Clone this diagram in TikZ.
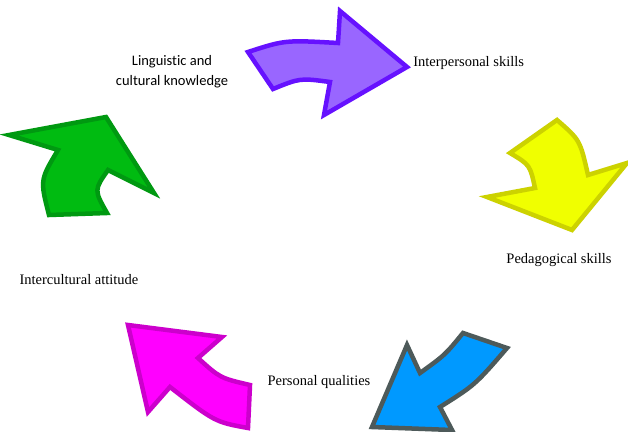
\documentclass[tikz,border=0pt]{standalone}
\usepackage{fontspec}
\setmainfont{Liberation Serif}
\newfontfamily\calibrifont[Ligatures=NoCommon]{Carlito}
\definecolor{purpfill}{RGB}{153,102,255}
\definecolor{purpline}{RGB}{102,17,255}
\definecolor{yelfill}{RGB}{240,255,0}
\definecolor{yelline}{RGB}{204,210,0}
\definecolor{bluefill}{RGB}{0,153,255}
\definecolor{blueline}{RGB}{77,90,90}
\definecolor{pinkfill}{RGB}{255,0,255}
\definecolor{pinkline}{RGB}{204,0,204}
\definecolor{greenfill}{RGB}{0,187,17}
\definecolor{greenline}{RGB}{0,153,17}
\begin{document}
\begin{tikzpicture}[x=1pt, y=-1pt, line width=4.5pt, line join=miter,
	every node/.style={font=\fontsize{14.5}{20}\selectfont, inner sep=0pt},
	purparrow/.style={draw=purpline, fill=purpfill},
	yelarrow/.style={draw=yelline, fill=yelfill},
	bluearrow/.style={draw=blueline, fill=bluefill},
	pinkarrow/.style={draw=pinkline, fill=pinkfill},
	greenarrow/.style={draw=greenline, fill=greenfill}]

	\useasboundingbox [fill=white] (0,0) rectangle (628,431);

	\draw [purparrow] (248,52) .. controls (285,40) .. (338,43) -- (340,11) -- (407,67) -- (324,115) -- (330,82) .. controls (300,78) .. (273,89) -- cycle;
	\draw [yelarrow] (510,153) -- (557,120) .. controls (580,140) .. (588,175) -- (627,163) -- (572,230) -- (487,197) -- (535,188) .. controls (530,165) .. (510,153) -- cycle;
	\draw [bluearrow] (463,333) -- (507,348) .. controls (475,385) .. (440,407) -- (452,430) -- (372,427) -- (407,345) -- (420,373) .. controls (445,355) .. (463,333) -- cycle;
	\draw [pinkarrow] (128,325) -- (222,337) -- (198,358) .. controls (220,378) .. (250,385) -- (248,428) .. controls (215,422) .. (170,387) -- (148,412) -- cycle;
	\draw [greenarrow] (49,215) .. controls (40,180) .. (58,150) -- (9,135) -- (106,117) -- (154,193) -- (108,170) .. controls (94,190) .. (107,213) -- cycle;

	\node [align=center, font=\calibrifont\fontsize{14.5}{20}\selectfont] (LK) at (172,72) {Linguistic and\\cultural knowledge};
	\node [anchor=west] (IS) at (411,63) {Interpersonal skills};
	\node (PS) at (559,260) {Pedagogical skills};
	\node (IA) at (79,280) {Intercultural attitude};
	\node (PQ) at (319,382) {Personal qualities};

\end{tikzpicture}
\end{document}
